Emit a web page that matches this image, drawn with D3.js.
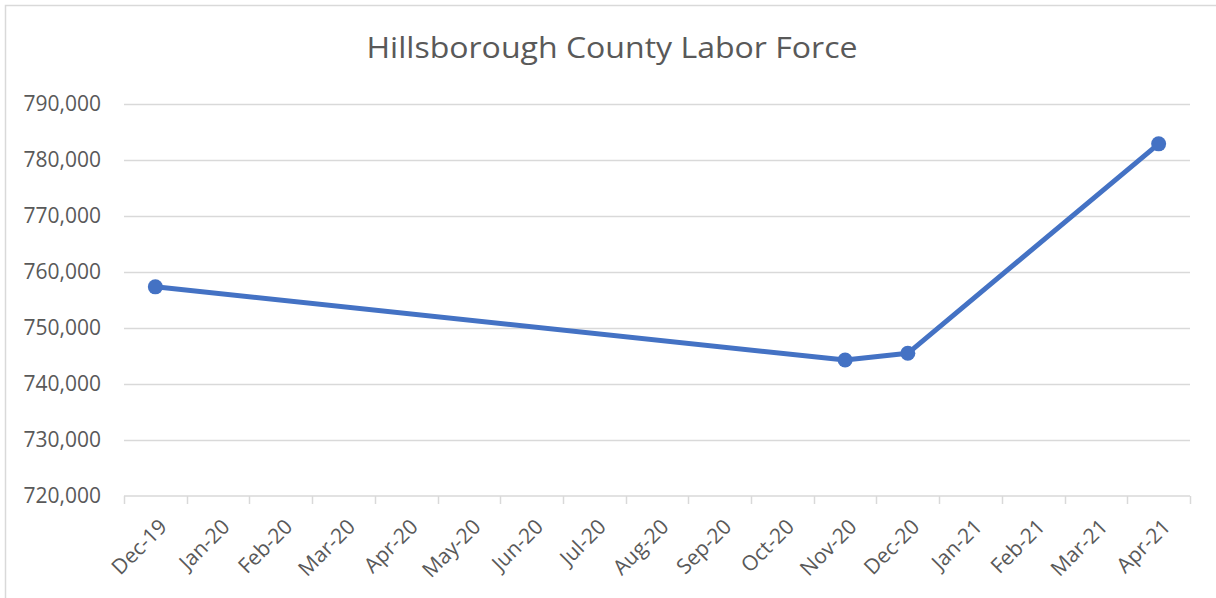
<!DOCTYPE html>
<html>
<head>
<meta charset="utf-8">
<script src="https://cdn.jsdelivr.net/npm/d3@7"></script>
<style>
  body { margin: 0; background: #fff; }
  text { font-family: "Open Sans", "Noto Sans", sans-serif; fill: #595959; }
</style>
</head>
<body>
<div id="viz"></div>
<script>
// months on the date axis
var months = ["Dec-19", "Jan-20", "Feb-20", "Mar-20", "Apr-20", "May-20", "Jun-20", "Jul-20",
  "Aug-20", "Sep-20", "Oct-20", "Nov-20", "Dec-20", "Jan-21", "Feb-21", "Mar-21", "Apr-21"];

// months that actually have a value
var pointMonths = ["Dec-19", "Nov-20", "Dec-20", "Apr-21"];
var laborForce = [757300, 744250, 745450, 782800];

var yTicks = [720000, 730000, 740000, 750000, 760000, 770000, 780000, 790000];

var width = 1216,
  height = 598;

var margin = { left: 124, right: 26, top: 103.5, bottom: 102 };

var svg = d3.select("#viz")
  .append("svg")
  .attr("width", width)
  .attr("height", height);

// chart area border
svg.append("rect")
  .attr("x", 5.5)
  .attr("y", 5.5)
  .attr("width", width + 10)
  .attr("height", height + 10)
  .attr("fill", "none")
  .attr("stroke", "#d9d9d9")
  .attr("stroke-width", 1.5);

var x = d3.scaleBand()
  .domain(months)
  .range([margin.left, width - margin.right]);

var y = d3.scaleLinear()
  .domain([720000, 790000])
  .range([height - margin.bottom, margin.top]);

// title
svg.append("text")
  .attr("x", 612)
  .attr("y", 58)
  .attr("text-anchor", "middle")
  .style("font-size", "30px")
  .attr("textLength", 491)
  .attr("lengthAdjust", "spacingAndGlyphs")
  .text("Hillsborough County Labor Force");

// gridlines
svg.append("g")
  .selectAll("line")
  .data(yTicks.slice(1))
  .enter()
  .append("line")
  .attr("x1", margin.left)
  .attr("x2", width - margin.right)
  .attr("y1", function(d) { return Math.round(y(d)) + 0.5; })
  .attr("y2", function(d) { return Math.round(y(d)) + 0.5; })
  .attr("stroke", "#d9d9d9")
  .attr("stroke-width", 1.5);

// y axis labels
var yAxis = d3.axisLeft(y)
  .tickValues(yTicks)
  .tickSize(0)
  .tickPadding(23)
  .tickFormat(d3.format(","));

svg.append("g")
  .attr("transform", "translate(" + margin.left + ",0)")
  .call(yAxis)
  .call(function(g) { g.select(".domain").remove(); })
  .selectAll("text")
  .style("font-size", "21px")
  .style("font-family", "'Open Sans', sans-serif")
  .style("fill", "#595959");

// x axis
var xg = svg.append("g")
  .attr("transform", "translate(0," + y(720000) + ")");

xg.append("line")
  .attr("x1", margin.left)
  .attr("x2", width - margin.right)
  .attr("stroke", "#d9d9d9")
  .attr("stroke-width", 1.5);

xg.selectAll(".tk")
  .data(months.concat(["end"]))
  .enter()
  .append("line")
  .attr("class", "tk")
  .attr("x1", function(d, i) { return Math.round(margin.left + i * x.step()) + 0.5; })
  .attr("x2", function(d, i) { return Math.round(margin.left + i * x.step()) + 0.5; })
  .attr("y1", 0)
  .attr("y2", 8)
  .attr("stroke", "#d9d9d9")
  .attr("stroke-width", 1.5);

xg.selectAll(".xl")
  .data(months)
  .enter()
  .append("text")
  .attr("class", "xl")
  .attr("text-anchor", "end")
  .attr("transform", function(d) {
    return "translate(" + (x(d) + x.bandwidth() / 2 + 13) + ",32) rotate(-45)";
  })
  .style("font-size", "21px")
  .text(function(d) { return d; });

// line + markers
var points = pointMonths.map(function(m, i) {
  return { month: m, value: laborForce[i] };
});

var line = d3.line()
  .x(function(d) { return x(d.month) + x.bandwidth() / 2; })
  .y(function(d) { return y(d.value); });

svg.append("path")
  .datum(points)
  .attr("d", line)
  .attr("fill", "none")
  .attr("stroke", "#4472c4")
  .attr("stroke-width", 5)
  .attr("stroke-linejoin", "round");

svg.selectAll(".pt")
  .data(points)
  .enter()
  .append("circle")
  .attr("class", "pt")
  .attr("cx", function(d) { return x(d.month) + x.bandwidth() / 2; })
  .attr("cy", function(d) { return y(d.value); })
  .attr("r", 7.5)
  .attr("fill", "#4472c4");
</script>
</body>
</html>
